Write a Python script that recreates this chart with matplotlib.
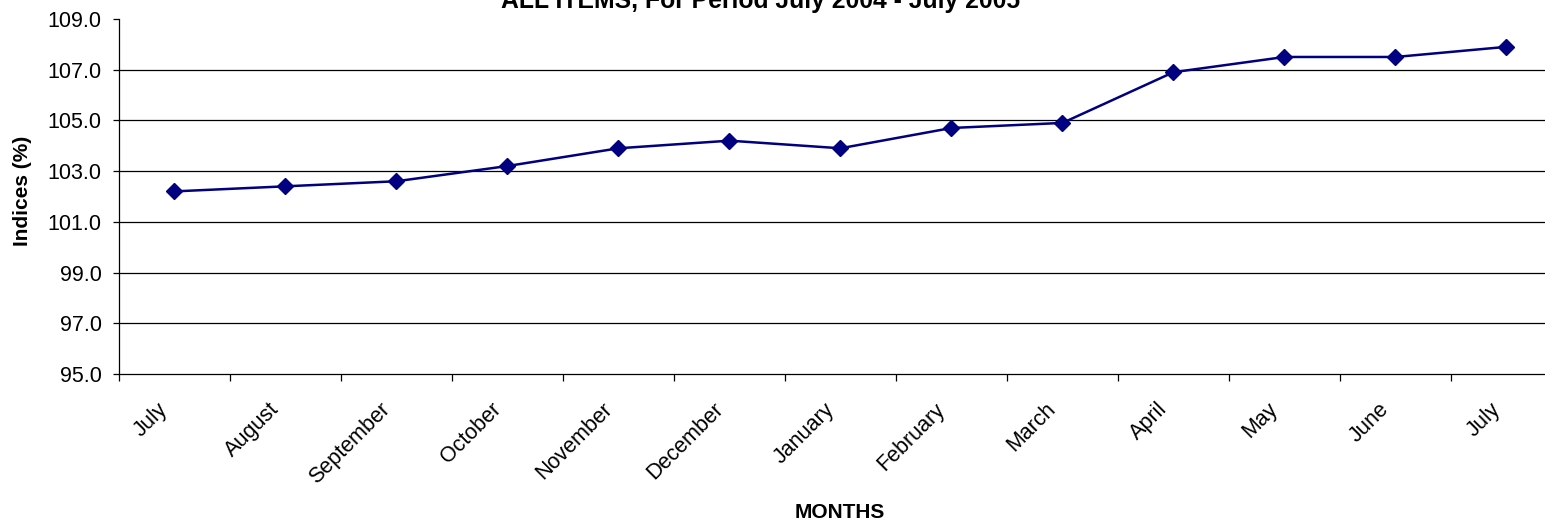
import numpy as np
import matplotlib.pyplot as plt
import matplotlib.transforms as mtransforms

plt.rcParams['font.family'] = ['Liberation Sans', 'DejaVu Sans']

months = ['July', 'August', 'September', 'October', 'November', 'December',
          'January', 'February', 'March', 'April', 'May', 'June', 'July']
indices = [102.2, 102.4, 102.6, 103.2, 103.9, 104.2, 103.9,
           104.7, 104.9, 106.9, 107.5, 107.5, 107.9]
yticks = np.arange(95, 110, 2)

fig = plt.figure(figsize=(15.45, 5.26), dpi=100)
ax = fig.add_axes([0.077, 0.289, 0.934, 0.675])

x = np.arange(len(months))
ax.plot(x, indices, color='#000080', linewidth=1.8, marker='D',
        markersize=8.5, zorder=3)

ax.set_xlim(-0.5, len(months) - 0.5)
ax.set_ylim(95, 109)
ax.set_yticks(yticks)
ax.set_yticklabels(['%.1f' % v for v in yticks], fontsize=15.5)
for v in yticks[1:-1]:
    ax.axhline(v, color='black', linewidth=0.9, zorder=1)

ax.set_xticks(x)
ax.set_xticklabels(months, fontsize=15.5, rotation=45, ha='right',
                   rotation_mode='anchor')
ax.tick_params(axis='x', which='major', length=0, pad=18)
# nudge the slanted month labels left, like the original
shift = mtransforms.ScaledTranslation(-0.17, 0, fig.dpi_scale_trans)
for lab in ax.get_xticklabels():
    lab.set_transform(lab.get_transform() + shift)
ax.set_xticks(np.arange(-0.5, len(months), 1), minor=True)
ax.tick_params(axis='x', which='minor', length=5, width=0.9, direction='out')
ax.tick_params(axis='y', length=4.5, width=0.9, direction='out', pad=8)

ax.spines['top'].set_visible(False)
ax.spines['right'].set_visible(False)
ax.spines['left'].set_linewidth(0.9)
ax.spines['bottom'].set_linewidth(0.9)

fig.text(23 / 1545, 1 - 191 / 526, 'Indices (%)', fontsize=15, rotation=90,
         fontweight='bold', ha='center', va='center')
fig.text(840 / 1545, 1 - 513 / 526, 'MONTHS', fontsize=15,
         fontweight='bold', ha='center', va='center')
fig.text(761 / 1545, 1 - 8 / 526, 'ALL ITEMS, For Period July 2004 - July 2005',
         fontsize=17.8, fontweight='bold', ha='center', va='baseline')

fig.savefig('out.png', dpi=100)
